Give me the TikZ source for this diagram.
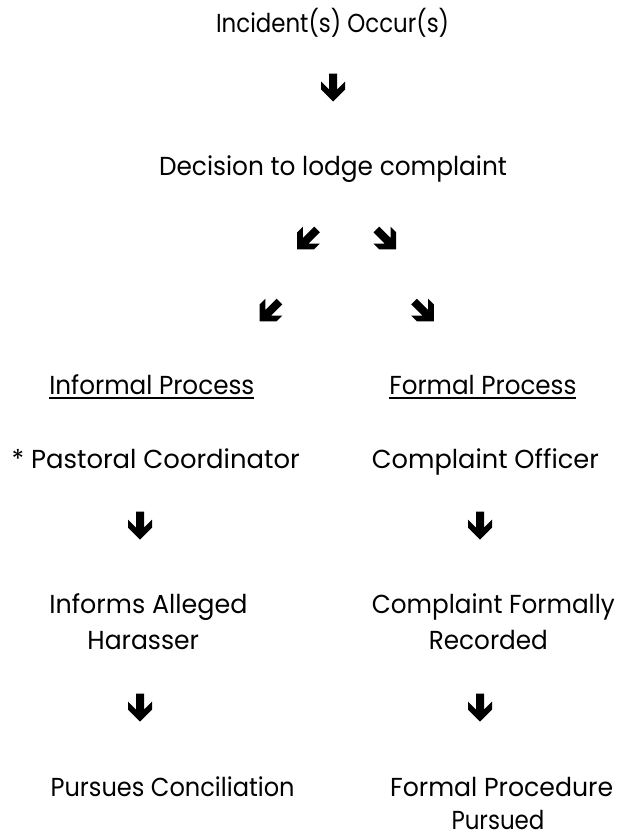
\documentclass[tikz,border=0pt]{standalone}
\usepackage{fontspec}
\setmainfont{Poppins}
\newcommand{\fitw}[2]{\resizebox{#1}{\height}{#2}}
\begin{document}
\begin{tikzpicture}[x=1bp,y=-1bp,
  txt/.style={inner sep=0pt, outer sep=0pt, anchor=base, font=\fontsize{26bp}{30bp}\selectfont},
  ul/.style={line width=1.4bp},
  darr/.pic={\fill (-4,-14) -- (4,-14) -- (4,2) -- (12,-6) -- (12,2) -- (0,14) -- (-12,2) -- (-12,-6) -- (-4,2) -- cycle;}]
\useasboundingbox[fill=white] (0,0) rectangle (618,836);
% top
\node[txt] (inc) at (332.6,32.5) {\fitw{233bp}{Incident(s) Occur(s)}};
\pic at (333,87.5) {darr};
\node[txt] (dec) at (333,175.5) {\fitw{348bp}{Decision to lodge complaint}};
% diagonal arrows
\pic[rotate=-45] at (307.1,239.4) {darr};
\pic[rotate=45] at (386.3,239.4) {darr};
\pic[rotate=-45] at (269.6,311.4) {darr};
\pic[rotate=45] at (423.9,311.4) {darr};
% headings
\node[txt] (inf) at (151.8,394.5) {\fitw{205bp}{Informal Process}};
\draw[ul] ([yshift=-3.5bp]inf.base west) -- ([yshift=-3.5bp]inf.base east);
\node[txt] (frm) at (482.9,394.5) {\fitw{187bp}{Formal Process}};
\draw[ul] ([yshift=-3.5bp]frm.base west) -- ([yshift=-3.5bp]frm.base east);
% row 1
\node[txt] (pas) at (155.7,468.5) {\fitw{288bp}{* Pastoral Coordinator}};
\node[txt] (off) at (485.4,468.5) {\fitw{227bp}{Complaint Officer}};
\pic at (140,525.5) {darr};
\pic at (480,525.5) {darr};
% row 2
\node[txt] (ial) at (148.4,613.5) {\fitw{198bp}{Informs Alleged}};
\node[txt] (har) at (143.2,649.5) {\fitw{111.5bp}{Harasser}};
\node[txt] (cfo) at (493.3,613.5) {\fitw{243bp}{Complaint Formally}};
\node[txt] (rec) at (488.4,649.5) {\fitw{119bp}{Recorded}};
\pic at (140,707.5) {darr};
\pic at (480,707.5) {darr};
% row 3
\node[txt] (pur) at (172.6,796.5) {\fitw{244bp}{Pursues Conciliation}};
\node[txt] (fpr) at (501.6,796.5) {\fitw{223bp}{Formal Procedure}};
\node[txt] (fpu) at (498,829.5) {\fitw{93bp}{Pursued}};
\end{tikzpicture}
\end{document}
